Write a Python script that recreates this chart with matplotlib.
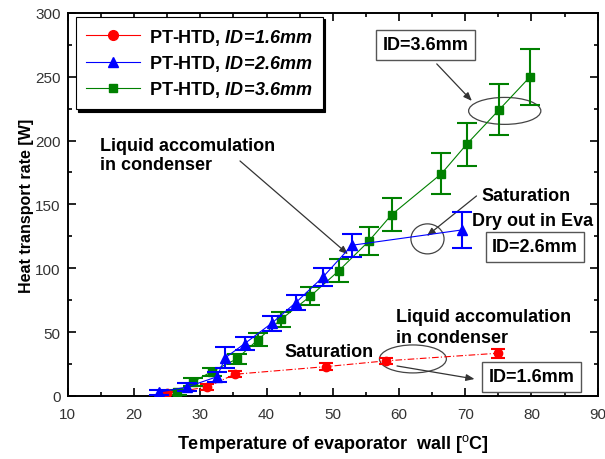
import matplotlib
matplotlib.use("Agg")
import matplotlib.pyplot as plt
from matplotlib.lines import Line2D
from matplotlib.patches import Ellipse
from matplotlib.ticker import MultipleLocator

plt.rcParams["font.family"] = ["Liberation Sans", "DejaVu Sans"]
plt.rcParams["mathtext.fontset"] = "custom"
plt.rcParams["mathtext.rm"] = "Liberation Sans"
plt.rcParams["mathtext.bf"] = "Liberation Sans:bold"
plt.rcParams["mathtext.it"] = "Liberation Sans:italic"
plt.rcParams["mathtext.bfit"] = "Liberation Sans:italic:bold"

# Measured heat transport rate vs evaporator wall temperature
t_16 = [25.0, 31.0, 35.2, 49.0, 58.0, 75.0]
q_16 = [2.0, 7.0, 17.0, 23.0, 27.5, 33.5]
e_16 = [1.5, 2.5, 2.5, 2.5, 2.5, 3.5]

t_26 = [23.8, 28.0, 32.5, 33.8, 36.7, 40.8, 44.4, 48.5, 52.9, 69.5]
q_26 = [3.0, 7.0, 15.0, 30.0, 41.0, 57.0, 73.0, 93.0, 118.0, 130.0]
e_26 = [2.0, 3.0, 4.0, 8.0, 5.0, 6.0, 6.0, 7.0, 9.0, 14.0]

t_36 = [26.5, 28.9, 31.7, 35.5, 38.7, 42.2, 46.6, 50.9, 55.4, 58.9, 66.4, 70.2, 75.1, 79.8]
q_36 = [3.0, 11.0, 19.0, 29.0, 44.0, 60.0, 78.0, 98.0, 121.0, 142.0, 174.0, 197.0, 224.0, 250.0]
e_36 = [2.0, 3.0, 3.0, 4.0, 5.0, 6.0, 7.0, 9.0, 11.0, 13.0, 16.0, 17.0, 20.0, 22.0]

labels = [r"PT-HTD, $\mathbfit{ID\!=\!1.6mm}$",
          r"PT-HTD, $\mathbfit{ID\!=\!2.6mm}$",
          r"PT-HTD, $\mathbfit{ID\!=\!3.6mm}$"]

fig = plt.figure(figsize=(6.05, 4.60), dpi=100)
ax = fig.add_axes([0.112, 0.137, 0.876, 0.833])

red, blue, green = "#ff0000", "#0000ff", "#008000"

ax.errorbar(t_16, q_16, yerr=e_16, color=red, lw=0.8, ls=(0, (6, 2, 1, 2)),
            marker="o", ms=6, ecolor=red, elinewidth=1.5, capsize=5, capthick=1.5, zorder=3)
ax.errorbar(t_26, q_26, yerr=e_26, color=blue, lw=0.8, marker="^", ms=7,
            ecolor=blue, elinewidth=1.5, capsize=7, capthick=1.5, zorder=4)
ax.errorbar(t_36, q_36, yerr=e_36, color=green, lw=0.8, marker="s", ms=6,
            ecolor=green, elinewidth=1.5, capsize=7, capthick=1.5, zorder=3)

ax.set_xlim(10, 90)
ax.set_ylim(0, 300)
ax.xaxis.set_major_locator(MultipleLocator(10))
ax.xaxis.set_minor_locator(MultipleLocator(5))
ax.yaxis.set_major_locator(MultipleLocator(50))
ax.yaxis.set_minor_locator(MultipleLocator(25))
ax.tick_params(which="both", direction="in", top=True, right=True, width=1.2,
               labelsize=11, labelcolor="#333333")
ax.tick_params(which="major", length=6)
ax.tick_params(which="minor", length=3)
ax.tick_params(axis="x", which="major", pad=8)
ax.tick_params(axis="y", which="major", pad=5)
for s in ax.spines.values():
    s.set_linewidth(1.4)

ax.set_xlabel("Temperature of evaporator  wall [$^{\\mathrm{o}}$C]", fontsize=13,
              fontweight="bold", labelpad=8)
ax.set_ylabel("Heat transport rate [W]", fontsize=11.5, fontweight="bold", labelpad=1)

handles = [Line2D([], [], color=red, lw=0.8, marker="o", ms=7),
           Line2D([], [], color=blue, lw=0.8, marker="^", ms=7),
           Line2D([], [], color=green, lw=0.8, marker="s", ms=6)]
leg = ax.legend(handles, labels, loc="upper left", bbox_to_anchor=(0.015, 0.99),
                borderaxespad=0, prop={"weight": "bold", "size": 13}, fancybox=False,
                edgecolor="black", framealpha=1, handlelength=3.0,
                borderpad=0.55, labelspacing=0.35, handletextpad=0.5,
                shadow={"color": "black", "alpha": 1.0})
leg.get_frame().set_linewidth(0.8)

txt = dict(fontsize=13, fontweight="bold", color="black")
arrow = dict(arrowstyle="-|>,head_length=0.5,head_width=0.2", color="#333333", lw=0.9,
             shrinkA=0, shrinkB=0)
box = dict(boxstyle="square,pad=0.35", fc="white", ec="#555555", lw=1.0)
ell = dict(fill=False, ec="#444444", lw=0.9)

# ID = 3.6 mm
ax.add_patch(Ellipse((75.96, 223.2), 10.9, 21.1, **ell))
ax.annotate("", xy=(71.0, 231), xytext=(65.7, 260), arrowprops=arrow)
ax.text(64.0, 274.9, "ID=3.6mm", ha="center", va="center", bbox=box, **txt)

# ID = 2.6 mm
ax.add_patch(Ellipse((64.3, 123.0), 5.0, 23.5, **ell))
ax.annotate("", xy=(64.2, 125.3), xytext=(71.7, 156.6), arrowprops=arrow)
ax.text(72.5, 156.6, "Saturation", ha="left", va="center", **txt)
ax.text(71.0, 137.0, "Dry out in Eva", ha="left", va="center", **txt)
ax.text(80.5, 116.7, "ID=2.6mm", ha="center", va="center", bbox=box, **txt)

ax.annotate("", xy=(52.3, 111), xytext=(36.0, 184), arrowprops=arrow)
ax.text(14.8, 203, "Liquid accomulation\nin condenser", ha="left", va="top",
        linespacing=1.15, **txt)

# ID = 1.6 mm
ax.add_patch(Ellipse((62.1, 29.0), 10.1, 21.9, **ell))
ax.annotate("", xy=(71.4, 13.3), xytext=(59.7, 23.5), arrowprops=arrow)
ax.text(59.5, 62.6, "Liquid accomulation", ha="left", va="center", **txt)
ax.text(59.5, 45.4, "in condenser", ha="left", va="center", **txt)
ax.text(42.75, 35.2, "Saturation", ha="left", va="center", **txt)
ax.text(80.0, 14.9, "ID=1.6mm", ha="center", va="center", bbox=box, **txt)

fig.savefig("out.png", dpi=100)
